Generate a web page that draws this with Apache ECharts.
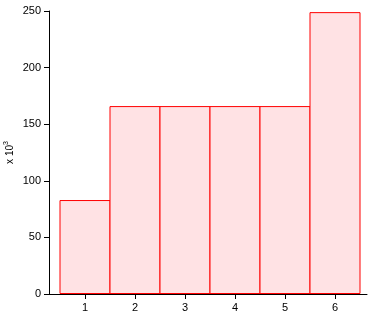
<!DOCTYPE html>
<html><head><meta charset="utf-8">
<script src="https://cdn.jsdelivr.net/npm/echarts@6/dist/echarts.min.js"></script>
<style>html,body{margin:0;padding:0;background:#fff}#c{width:392px;height:330px}</style>
</head><body><div id="c"></div>
<script>
const categories = [1, 2, 3, 4, 5, 6];
const values = [83, 166, 166, 166, 166, 249];
const yTicks = [0, 50, 100, 150, 200, 250];

const chart = echarts.init(document.getElementById('c'), null, {renderer: 'canvas'});
const font = 'Liberation Sans, Arial, Helvetica, sans-serif';
chart.setOption({
  animation: false,
  grid: {left: 49, right: 25, top: 11, bottom: 36, containLabel: false, outerBoundsMode: 'none'},
  xAxis: {
    type: 'value', min: 0.28, max: 6.64,
    splitLine: {show: false},
    axisLine: {lineStyle: {color: '#000', width: 1}},
    axisTick: {show: true, length: 5, lineStyle: {color: '#000'}, customValues: categories},
    axisLabel: {color: '#000', fontFamily: font, fontSize: 11, margin: 8, customValues: categories}
  },
  yAxis: {
    type: 'value', min: 0, max: 250, interval: 50,
    name: '{a|x 10}{s|3}', nameLocation: 'middle', nameGap: 32, nameMoveOverlap: false,
    nameTextStyle: {
      rich: {
        a: {fontFamily: font, fontSize: 10, color: '#000'},
        s: {fontFamily: font, fontSize: 7, color: '#000', verticalAlign: 'top', padding: [0,0,7,0]}
      }
    },
    splitLine: {show: false},
    axisLine: {show: true, lineStyle: {color: '#000', width: 1}},
    axisTick: {show: true, length: 5, lineStyle: {color: '#000'}},
    axisLabel: {color: '#000', fontFamily: font, fontSize: 11, margin: 8,
      customValues: yTicks}
  },
  series: [{
    type: 'bar',
    data: categories.map((c, i) => [c, values[i]]),
    barWidth: 51,
    itemStyle: {color: '#ffe2e4', borderColor: '#ff0000', borderWidth: 1}
  }]
});
</script></body></html>
